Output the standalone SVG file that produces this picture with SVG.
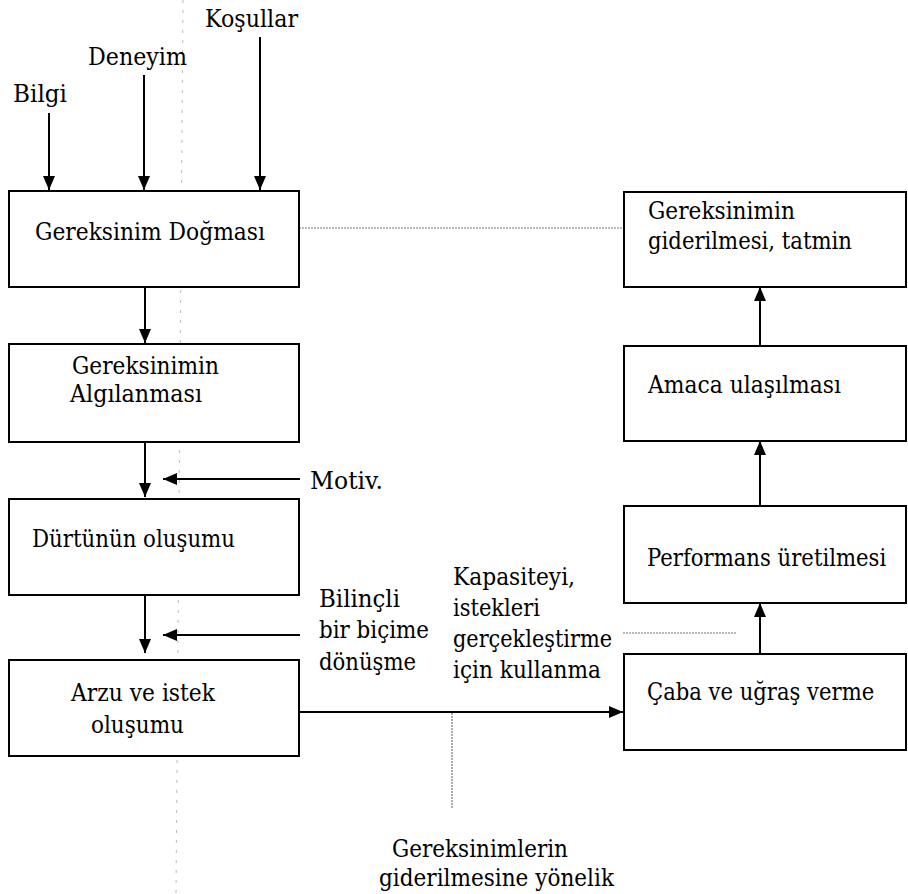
<svg xmlns="http://www.w3.org/2000/svg" width="908" height="894" viewBox="0 0 908 894">
<style>
text{font-family:'DejaVu Serif','Liberation Serif','Times New Roman',serif;font-size:24.5px;fill:#000}
.box{fill:#fff;stroke:#000;stroke-width:2}
.arr{stroke:#000;stroke-width:2;fill:none;marker-end:url(#ah)}
.dot{stroke:#777;stroke-width:1.2;stroke-dasharray:2 1;fill:none}
.guide{stroke:#bbb;stroke-width:1;stroke-dasharray:3 7;fill:none}
</style>
<defs>
<marker id="ah" viewBox="0 0 14 12" refX="14" refY="6" markerWidth="14" markerHeight="12" markerUnits="userSpaceOnUse" orient="auto">
<path d="M0,0 L14,6 L0,12 Z" fill="#000"/>
</marker>
</defs>
<rect width="908" height="894" fill="#fff"/>
<line class="guide" x1="183" y1="0" x2="176" y2="894"/>

<g id="labels-inputs">
<text x="13" y="102" textLength="54" lengthAdjust="spacingAndGlyphs">Bilgi</text>
<text x="88" y="65" textLength="99" lengthAdjust="spacingAndGlyphs">Deneyim</text>
<text x="205" y="27" textLength="93" lengthAdjust="spacingAndGlyphs">Koşullar</text>
</g>

<g id="connectors">
<line class="arr" x1="49" y1="113" x2="49" y2="190"/>
<line class="arr" x1="144" y1="75" x2="144" y2="190"/>
<line class="arr" x1="260" y1="37" x2="260" y2="190"/>
<line class="arr" x1="145" y1="287" x2="145" y2="343"/>
<line class="arr" x1="145" y1="442" x2="145" y2="497"/>
<line class="arr" x1="145" y1="595" x2="145" y2="653"/>
<line class="arr" x1="300" y1="479" x2="163" y2="479"/>
<line class="arr" x1="300" y1="635" x2="163" y2="635"/>
<line class="arr" x1="299" y1="712" x2="623" y2="712"/>
<line class="dot" x1="299" y1="228" x2="624" y2="228"/>
<line class="dot" x1="452" y1="713" x2="452" y2="808"/>
<line class="dot" x1="623" y1="633" x2="737" y2="633"/>
<line class="arr" x1="760" y1="654" x2="760" y2="603"/>
<line class="arr" x1="760" y1="506" x2="760" y2="441"/>
<line class="arr" x1="760" y1="346" x2="760" y2="287"/>
</g>

<g id="node-gereksinim-dogmasi">
<rect class="box" x="9" y="191" width="290" height="96"/>
<text x="35" y="240" textLength="230" lengthAdjust="spacingAndGlyphs">Gereksinim Doğması</text>
</g>
<g id="node-algilanmasi">
<rect class="box" x="9" y="344" width="290" height="98"/>
<text x="72" y="374" textLength="147" lengthAdjust="spacingAndGlyphs">Gereksinimin</text>
<text x="70" y="402" textLength="132" lengthAdjust="spacingAndGlyphs">Algılanması</text>
</g>
<g id="node-durtu">
<rect class="box" x="9" y="499" width="290" height="96"/>
<text x="32" y="547" textLength="203" lengthAdjust="spacingAndGlyphs">Dürtünün oluşumu</text>
</g>
<g id="node-arzu">
<rect class="box" x="9" y="660" width="290" height="96"/>
<text x="71" y="701" textLength="144" lengthAdjust="spacingAndGlyphs">Arzu ve istek</text>
<text x="91" y="733" textLength="93" lengthAdjust="spacingAndGlyphs">oluşumu</text>
</g>

<g id="node-tatmin">
<rect class="box" x="624" y="192" width="282" height="95"/>
<text x="648" y="219" textLength="147" lengthAdjust="spacingAndGlyphs">Gereksinimin</text>
<text x="648" y="249" textLength="204" lengthAdjust="spacingAndGlyphs">giderilmesi, tatmin</text>
</g>
<g id="node-amaca">
<rect class="box" x="624" y="346" width="282" height="95"/>
<text x="648" y="393" textLength="193" lengthAdjust="spacingAndGlyphs">Amaca ulaşılması</text>
</g>
<g id="node-performans">
<rect class="box" x="624" y="506" width="282" height="97"/>
<text transform="translate(647,566) scale(0.8,1)" x="0" y="0" textLength="299" lengthAdjust="spacingAndGlyphs">Performans üretilmesi</text>
</g>
<g id="node-caba">
<rect class="box" x="624" y="654" width="282" height="96"/>
<text transform="translate(647,700) scale(0.8,1)" x="0" y="0" textLength="284" lengthAdjust="spacingAndGlyphs">Çaba ve uğraş verme</text>
</g>

<g id="label-motiv"><text x="310" y="489" textLength="73" lengthAdjust="spacingAndGlyphs">Motiv.</text></g>
<g id="label-bilincli">
<text x="319" y="607" textLength="81" lengthAdjust="spacingAndGlyphs">Bilinçli</text>
<text x="319" y="638" textLength="110" lengthAdjust="spacingAndGlyphs">bir biçime</text>
<text x="319" y="670" textLength="97" lengthAdjust="spacingAndGlyphs">dönüşme</text>
</g>
<g id="label-kapasite">
<text x="453" y="585" textLength="122" lengthAdjust="spacingAndGlyphs">Kapasiteyi,</text>
<text x="453" y="616" textLength="87" lengthAdjust="spacingAndGlyphs">istekleri</text>
<text x="453" y="647" textLength="159" lengthAdjust="spacingAndGlyphs">gerçekleştirme</text>
<text x="453" y="678" textLength="148" lengthAdjust="spacingAndGlyphs">için kullanma</text>
</g>
<g id="label-bottom">
<text x="392" y="857" textLength="176" lengthAdjust="spacingAndGlyphs">Gereksinimlerin</text>
<text x="379" y="886" textLength="235" lengthAdjust="spacingAndGlyphs">giderilmesine yönelik</text>
</g>
</svg>
